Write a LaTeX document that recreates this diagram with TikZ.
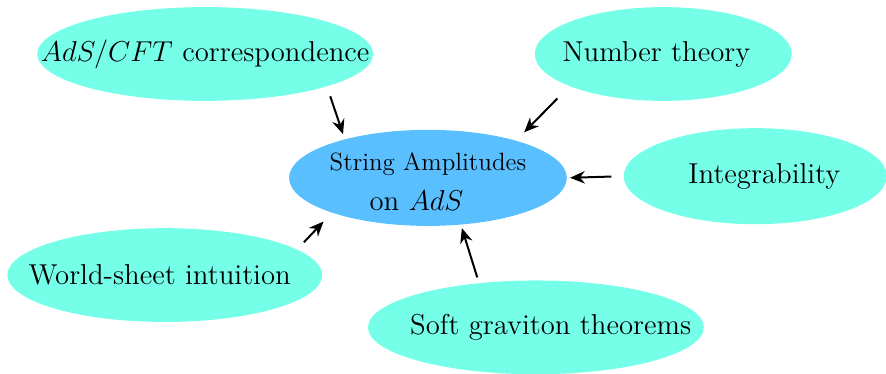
\documentclass[tikz,border=0pt]{standalone}
\usepackage{xcolor}
\usepackage{amsmath}
\usepackage{tikz}
\usetikzlibrary{shapes.geometric, arrows.meta, positioning}
\definecolor{myaqua}{RGB}{117,255,232}
\definecolor{mysky}{RGB}{90,191,255}
\definecolor{mydark}{RGB}{0,0,0}
% zero-width label, moved right by #1
\newcommand{\tlabel}[2]{\makebox[0pt]{\hspace*{#1}#2\hspace*{-#1}}}
\tikzset{
  topic/.style={ellipse, fill=myaqua, draw=none, inner sep=0pt,
    minimum height=1.65cm, font=\Large},
  hub/.style={ellipse, fill=mysky, draw=none, inner sep=0pt,
    minimum width=4.86cm, minimum height=1.69cm, align=center},
  arrow/.style={-{Stealth[length=2.6mm, width=2.2mm]}, line width=1pt, color=mydark}
}
\begin{document}
\begin{tikzpicture}
  \useasboundingbox (0,0) rectangle (15.59,-6.58);

  \node[hub] (amp) at (7.53,-3.13)
    {\rule{0pt}{13pt}{\fontsize{12.5}{15}\selectfont String Amplitudes}\\[6.5pt] {\Large\tlabel{-0.2cm}{on $AdS$}}};

  \node[topic, minimum width=5.91cm] (adscft) at (3.61,-0.95) {\tlabel{0cm}{$AdS/CFT$ correspondence}};
  \node[topic, minimum width=4.52cm] (number) at (11.67,-0.95) {\tlabel{-0.12cm}{Number theory}};
  \node[topic, minimum width=4.63cm, minimum height=1.69cm] (integ) at (13.29,-3.10) {\tlabel{0.16cm}{Integrability}};
  \node[topic, minimum width=5.54cm] (world) at (2.90,-4.84) {\tlabel{-0.09cm}{World-sheet intuition}};
  \node[topic, minimum width=5.91cm] (soft) at (9.43,-5.76) {\raisebox{-0.1cm}{\tlabel{0.26cm}{Soft graviton theorems}}};

  \draw[arrow, shorten <=0.18cm, shorten >=0.09cm] (adscft.-15.4) -- (amp.155.4);
  \draw[arrow, shorten <=0.3cm, shorten >=0.2cm] (number.-161.4) -- (amp.23.8);
  \draw[arrow, shorten <=0.21cm, shorten >=0.05cm] (integ.west) -- (amp.east);
  \draw[arrow, shorten <=0.17cm, shorten >=0.21cm] (world.11.2) -- (amp.-160.3);
  \draw[arrow, shorten <=0.1cm, shorten >=0.06cm] (soft.142.8) -- (amp.-55.6);
\end{tikzpicture}
\end{document}
